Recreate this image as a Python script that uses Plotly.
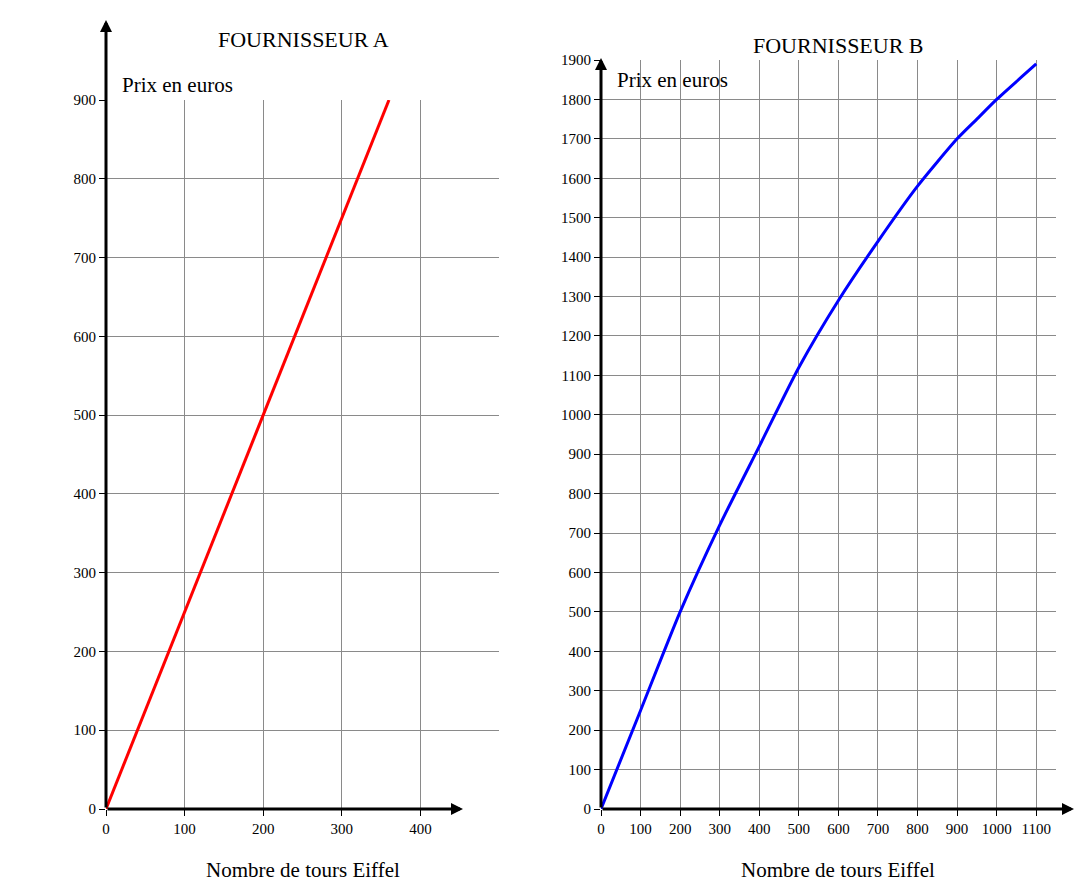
import plotly.graph_objects as go

xa = [0, 360]
ya = [0, 900]
xb = [0, 100, 200, 300, 400, 500, 600, 700, 800, 900, 950, 1000, 1100]
yb = [0, 250, 500, 720, 920, 1120, 1290, 1440, 1580, 1700, 1750, 1800, 1890]

W, H = 1085, 878
px = lambda x: x / W
py = lambda y: 1 - y / H
FONT = "Liberation Serif"

fig = go.Figure()
fig.add_trace(go.Scatter(x=xa, y=ya, mode="lines", line=dict(color="#ff0000", width=3), xaxis="x", yaxis="y"))
fig.add_trace(go.Scatter(x=xb, y=yb, mode="lines", line=dict(color="#0000ff", width=3, shape="spline", smoothing=0.6), xaxis="x2", yaxis="y2"))

ax = dict(showgrid=True, gridcolor="#8a8a8a", gridwidth=0.6, zeroline=False, showline=False, automargin=False,
          ticks="outside", ticklen=6, tickcolor="black", tickfont=dict(family=FONT, size=15, color="black"), fixedrange=True)
fig.update_layout(
    width=W, height=H, margin=dict(l=0, r=0, t=0, b=0, autoexpand=False), showlegend=False,
    plot_bgcolor="white", paper_bgcolor="white",
    xaxis=dict(ax, domain=[px(98), px(491)], range=[0, 500], tickvals=[0, 100, 200, 300, 400], anchor="y"),
    yaxis=dict(ax, domain=[py(801), py(92)], range=[0, 900], dtick=100, anchor="x"),
    xaxis2=dict(ax, domain=[px(593), px(1048)], range=[0, 1150], tickvals=list(range(0, 1101, 100)), anchor="y2"),
    yaxis2=dict(ax, domain=[py(801), py(52)], range=[0, 1900], dtick=100, anchor="x2"),
)
# axis arrows (paper coordinates so they are not hidden outside the ranges)
arr = dict(showarrow=True, arrowhead=2, arrowsize=0.8, arrowwidth=3, arrowcolor="black", text="",
           xref="paper", yref="paper", axref="pixel", ayref="pixel")
fig.add_annotation(arr, x=px(455), y=py(801), ax=-(455 - 98), ay=0)
fig.add_annotation(arr, x=px(98), y=py(12), ax=0, ay=801 - 12)
fig.add_annotation(arr, x=px(1066), y=py(801), ax=-(1066 - 593), ay=0)
fig.add_annotation(arr, x=px(593), y=py(50), ax=0, ay=801 - 50)

def txt(s, x, y, size=17, xanchor="center"):
    fig.add_annotation(text=s, x=px(x), y=py(y), xref="paper", yref="paper", showarrow=False,
                       xanchor=xanchor, yanchor="middle", font=dict(family=FONT, size=size, color="black"))

txt("FOURNISSEUR A", 295, 31, 22)
txt("FOURNISSEUR B", 830, 38, 22)
txt("Prix en euros", 112, 77, 21, "left")
txt("Prix en euros", 607, 72, 21, "left")
txt("Nombre de tours Eiffel", 295, 862, 21)
txt("Nombre de tours Eiffel", 830, 862, 21)

fig.write_html("out.html")
